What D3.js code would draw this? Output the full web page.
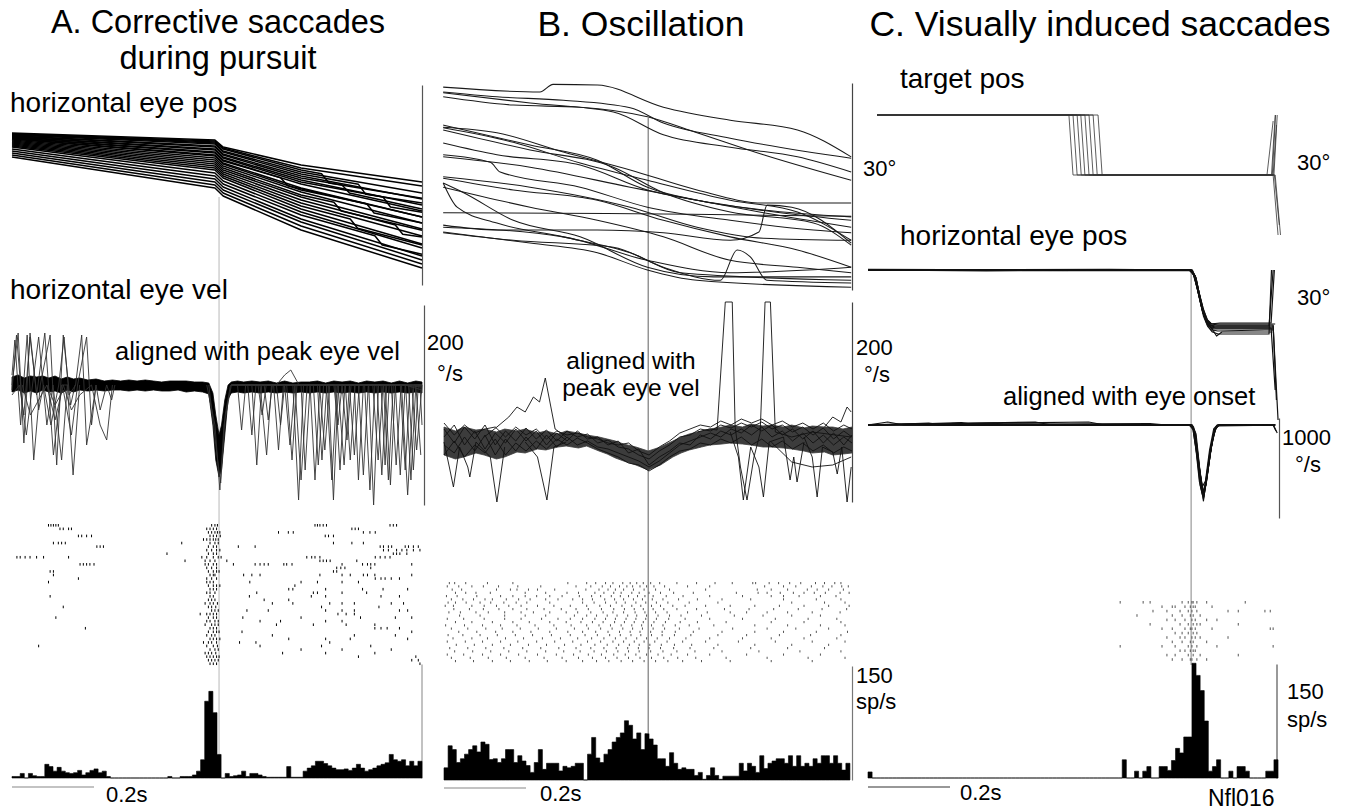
<!DOCTYPE html>
<html><head><meta charset="utf-8">
<script src="https://cdn.jsdelivr.net/npm/d3@7"></script>
<style>
html,body{margin:0;padding:0;background:#fff;}
svg{display:block;font-family:"Liberation Sans",Arial,Helvetica,sans-serif;}
</style></head><body>
<svg id="fig" width="1346" height="812"></svg>
<script>
// ---------------- DATA ----------------
const timeA = [-505, 495];
const timeB = [-498, 497];
const timeC = [-788, 207];
const binMs = 10;

// Panel A: horizontal eye position traces [ms, deg]
const posA = [
 [[-505,22.8],[-10,21.75],[10,20.7],[200,18.0],[495,15.45]],
 [[-505,22.7],[-10,21.6],[10,20.55],[200,17.55],[495,14.85]],
 [[-505,22.65],[-10,21.45],[10,20.4],[200,17.25],[250,16.7],[268,15.3],[495,13.0]],
 [[-505,22.6],[-10,21.3],[10,20.1],[200,16.95],[495,13.8]],
 [[-505,22.5],[-10,21.15],[10,19.95],[200,16.65],[340,15.1],[358,13.6],[495,12.3]],
 [[-505,22.4],[-10,20.85],[10,19.65],[200,16.35],[495,12.9]],
 [[-505,22.35],[-10,20.7],[10,19.5],[200,16.05],[300,15.0],[318,13.8],[495,11.4]],
 [[-505,22.25],[-10,20.4],[10,19.2],[200,15.75],[495,12.0]],
 [[-505,22.2],[-10,20.25],[10,19.05],[200,15.45],[400,13.2],[418,11.7],[495,10.9]],
 [[-505,22.1],[-10,19.95],[10,18.75],[200,15.15],[495,11.1]],
 [[-505,22.05],[-10,19.8],[10,18.6],[150,16.1],[168,14.9],[495,10.2]],
 [[-505,21.95],[-10,19.5],[10,18.3],[200,14.55],[495,10.2]],
 [[-505,21.9],[-10,19.35],[10,18.15],[200,14.25],[360,12.2],[378,10.8],[495,9.3]],
 [[-505,21.75],[-10,19.05],[10,17.85],[200,13.95],[495,9.3]],
 [[-505,21.6],[-10,18.75],[10,17.55],[200,13.5],[280,12.4],[298,11.1],[495,8.2]],
 [[-505,21.45],[-10,18.45],[10,17.25],[200,13.2],[495,8.4]],
 [[-505,21.3],[-10,18.15],[10,16.95],[200,12.75],[430,9.0],[448,7.6],[495,7.2]],
 [[-505,21.15],[-10,17.85],[10,16.65],[200,12.3],[495,7.35]],
 [[-505,21.0],[-10,17.55],[10,16.35],[200,11.85],[320,9.9],[338,8.5],[495,6.0]],
 [[-505,20.85],[-10,17.25],[10,16.05],[200,11.4],[495,6.15]],
 [[-505,20.7],[-10,16.8],[10,15.6],[200,10.95],[495,5.55]],
 [[-505,20.4],[-10,16.35],[10,15.15],[200,10.5],[380,7.4],[398,6.0],[495,4.6]],
 [[-505,20.1],[-10,15.9],[10,14.7],[200,9.9],[495,4.35]],
 [[-505,19.8],[-10,15.45],[10,14.25],[200,9.45],[495,3.75]],
 [[-505,19.5],[-10,15.0],[10,13.8],[200,8.85],[495,3.15]],
 [[-505,19.2],[-10,14.55],[10,13.35],[200,8.25],[495,2.55]]
];

// Panel A: eye velocity band envelope [ms, low, high] (deg/s)
const velBandA = [[-505,-27,-12],[-490,-25,-10],[-475,-28,-13],[-460,-26,-11],[-445,-28,-12],[-430,-25,-11],[-415,-27,-13],[-400,-26,-11],[-385,-28,-14],[-370,-25,-12],[-355,-27,-14],[-340,-25,-13],[-320,-26,-15],[-300,-25,-14],[-280,-26,-16],[-260,-25,-15],[-240,-25,-16],[-220,-26,-15],[-200,-25,-16],[-180,-26,-15],[-160,-25,-16],[-140,-26,-17],[-120,-26,-16],[-100,-25,-16],[-80,-27,-16],[-60,-26,-17],[-40,-27,-17],[-25,-29,-18],[-15,-60,-28],[-8,-95,-50],[0,-112,-70],[6,-105,-60],[14,-70,-35],[22,-34,-20],[30,-28,-17],[45,-27,-16],[60,-28,-17],[80,-27,-16],[100,-28,-17],[120,-27,-16],[140,-28,-18],[160,-27,-16],[180,-28,-18],[200,-27,-17],[220,-28,-17],[240,-27,-16],[260,-28,-18],[280,-27,-16],[300,-28,-17],[320,-27,-16],[340,-28,-18],[360,-27,-16],[380,-28,-17],[400,-27,-16],[420,-28,-18],[440,-27,-16],[460,-28,-18],[480,-27,-16],[495,-28,-17]];

// Panel A: individual velocity excursions [ms, deg/s]
const velTracesA = [
 [[-505,-20],[-490,32],[-476,-78],[-461,32],[-445,-30],[-425,32],[-404,-90],[-384,-20],[-368,-20]],
 [[-505,-10],[-498,25],[-484,-60],[-468,30],[-452,-95],[-436,-20],[-412,30],[-396,-100],[-380,30],[-362,-40],[-351,-20]],
 [[-505,-25],[-494,30],[-480,-40],[-470,-70],[-455,-20],[-440,28],[-420,-60],[-405,-20],[-384,-95],[-370,-20],[-356,-110],[-340,-20]],
 [[-505,-30],[-487,-20],[-476,-50],[-461,28],[-440,-45],[-428,-20],[-410,-60],[-391,-20],[-378,28],[-366,-30],[-350,-20],[-335,30],[-323,-80],[-311,-50],[-300,-20]],
 [[-420,-20],[-400,-40],[-380,-25],[-360,-70],[-345,-20],[-323,28],[-311,-60],[-300,-20],[-290,-45],[-274,-20],[-262,-35],[-254,-20]],
 [[-480,-20],[-460,-50],[-440,-35],[-420,-20],[-400,-55],[-380,-20],[-360,-45],[-340,-30],[-311,-20],[-290,-60],[-274,-75],[-260,-20]],
 [[30,-20],[80,-20],[92,-100],[104,-20],[180,-20],[194,-135],[206,-20],[283,-20],[295,-105],[307,-20],[385,-20],[397,-110],[409,-20],[462,-20],[474,-105],[486,-20],[495,-20]],
 [[30,-20],[45,-20],[55,-65],[65,-20],[100,-20],[116,-90],[128,-20],[222,-20],[234,-115],[246,-20],[330,-20],[340,-115],[352,-20],[430,-20],[442,-110],[454,-20],[495,-25]],
 [[30,-20],[133,-20],[145,-85],[157,-20],[200,-20],[210,-105],[222,-20],[267,-20],[279,-135],[291,-20],[365,-20],[377,-140],[389,-20],[495,-20]],
 [[30,-20],[160,-20],[173,-80],[185,-20],[240,-20],[251,-95],[263,-20],[308,-20],[320,-95],[332,-20],[401,-20],[413,-115],[425,-20],[480,-20],[492,-90]],
 [[30,-20],[70,-20],[80,-70],[90,-20],[140,-20],[150,-60],[160,-20],[245,-20],[258,-85],[270,-20],[340,-20],[352,-110],[364,-20],[442,-20],[454,-105],[466,-20],[495,-20]],
 [[30,-20],[110,-20],[120,-55],[130,-20],[185,-20],[200,-115],[215,-20],[290,-20],[305,-100],[318,-20],[375,-20],[388,-95],[400,-20],[455,-20],[468,-115],[480,-20],[495,-20]],
 [[30,-20],[230,-20],[242,-100],[255,-20],[280,-20],[290,-60],[300,-20],[355,-20],[368,-125],[380,-20],[420,-20],[432,-100],[444,-20],[495,-22]],
 [[30,-20],[95,-20],[105,-50],[115,-20],[165,-20],[178,-95],[190,-20],[262,-20],[275,-115],[288,-20],[318,-20],[330,-90],[342,-20],[405,-20],[418,-120],[430,-20],[470,-20],[482,-85],[495,-20]],
 [[300,-20],[312,-75],[322,-20],[395,-20],[405,-100],[415,-20],[445,-20],[460,-130],[475,-20],[490,-20],[495,-60]],
 [[-30,-20],[-10,-60],[2,-125],[12,-60],[30,-20]],
 [[-25,-20],[-5,-90],[4,-118],[15,-50],[28,-20]],
 [[140,-20],[160,-10],[175,-5],[195,-20]]
];

// Panel A: spike raster (ms per trial)
const rasterA = [
 [-416,-410,-404,-398,-392,-18,-10,-4,234,240,246,254,262,417,425,433],
 [-388,-380,-367,-360,-30,-22,-14,-6,324,332,340],
 [-26,-18,-10,-4,2,145,169,181,352,368,381],
 [-343,-335,-323,-311,-22,-14,-6,3,259,267,279],
 [-38,-30,-22,-14,-8,-2],
 [-404,-392,-384,-375,-91,-22,-10,-2,279,324,352],
 [-298,-290,-282,-26,-14,-6,47,88,393,401,413,421,454,462,474,486],
 [-30,-18,-6,2,401,413,433,446,458,474,490],
 [-127,-26,-14,-6,425,433,441,458],
 [-493,-485,-473,-461,-445,-428,-367,-42,-30,-14,-2,5,214,226,234,246,381,393,405,417],
 [-83,-34,-22,-10,19,246,254,262,271,336],
 [-339,-331,-323,-315,-305,-34,-26,-14,-6,35,88,100,110,120,158,165,178,300,350,362,370,380,470],
 [-30,-18,-6,287,297,307,370],
 [-412,-404,-26,-14,-6,0,279,287],
 [-404,-22,-14,-10,60,80,100,246,300,320,352,362,380,470],
 [-343,-30,-18,-6,381,395,405,420,440],
 [-416,-30,-22,-14,75,200,240,300,340],
 [-26,-14,-6,2,185],
 [-22,-14,-6,170,180,260,350,400,460],
 [-30,-22,-10,92,230,240,300,360],
 [-412,-22,-14,74,225,260,395,440],
 [-26,-18,-10,110,170],
 [-34,-22,-14,-4,130,180,270,300,330,420,450],
 [-380,-26,-18,-8,250,390],
 [-18,-10,-2,68,120,260,300,330,440,460],
 [-46,-30,-22,-14,-6,290,310,330],
 [-398,-26,-14,-6,58,200,345,430,470],
 [-30,-22,-10,-2,100,150,260,300],
 [-34,-18,-10,-2,140,230,310,380],
 [-326,-22,-14,-6,380,395,410,440],
 [-26,-14,-6,0,56,470],
 [-30,-18,-10,130,330,430],
 [-22,-14,-6,2,170,260,320,460],
 [-38,-26,-18,-6,50,90,270],
 [-440,-30,-14,-4,100,250,370],
 [-22,-10,-2,200,300,420],
 [-34,-26,-18,-8,155,260,380],
 [-30,-22,-14,-6,0,340,480],
 [-26,-18,-10,-2,470,486],
 [-22,-14,-6,490]
];

// Panel A: firing-rate histogram (sp/s), 10 ms bins
const histA = [2,2,6,0,6,3,2,2,18,15, 9,14,9,7,6,7,10,4,7,10, 12,7,9,2,0,0,0,0,0,0, 0,0,0,0,0,0,0,0,2,0, 0,2,2,2,4,9,24,101,114,86, 31,0,6,2,3,4,9,2,6,6, 4,2,1,1,1,1,1,15,1,1, 1,9,13,16,22,22,19,16,13,11, 11,12,10,13,18,13,9,11,13,16, 18,20,31,24,22,24,16,22,16,22];

// Panel B: eye position traces [ms, deg]
const posB = [
 [[-500,29.4],[-264,28.7],[-232,29.8],[-124,29.7],[37,26.5],[200,24.6],[364,23.2],[495,19.3]],
 [[-500,28.7],[-369,28.0],[-207,27.5],[-44,26.4],[37,24.2],[200,22.0],[495,19.1]],
 [[-500,28.6],[-288,27.1],[-85,25.8],[37,22.5],[200,20.7],[364,19.3],[495,17.1]],
 [[-500,28.0],[-329,26.8],[-166,26.5],[-2,25.1],[119,22.8],[281,19.6],[495,15.9]],
 [[-500,23.9],[-288,21.0],[-124,18.8],[-2,14.9],[119,13.0],[281,11.6],[495,10.6]],
 [[-500,23.5],[-329,21.4],[-166,18.4],[-2,15.9],[200,13.0],[364,11.3],[495,7.2]],
 [[-500,23.2],[-288,20.3],[-85,17.8],[37,14.1],[200,11.3],[403,9.7],[495,6.5]],
 [[-500,21.3],[-369,19.6],[-166,18.1],[-2,14.5],[160,12.6],[322,11.2],[495,10.1]],
 [[-500,19.6],[-385,18.5],[-361,17.1],[-166,14.9],[-2,12.0],[200,10.1],[403,8.7],[495,8.3]],
 [[-500,16.4],[-288,14.9],[-44,12.0],[119,9.1],[281,7.5],[495,7.2]],
 [[-500,16.2],[-329,14.5],[-124,13.0],[37,10.1],[200,7.7],[364,5.8],[495,3.3]],
 [[-500,15.5],[-466,12.0],[-369,9.7],[-207,7.7],[-44,5.4],[78,2.5],[495,1.4]],
 [[-500,14.9],[-288,12.0],[-124,10.1],[37,7.7],[200,4.3],[364,3.3],[495,2.5]],
 [[-500,11.2],[-100,11.1],[200,10.9],[495,10.7]],
 [[-500,9.4],[-369,8.7],[-124,8.7],[37,8.3],[200,7.2],[270,8.4],[290,12.3],[350,12.0],[495,6.8]],
 [[-500,8.4],[-288,6.8],[-124,5.4],[-2,2.9],[119,1.4],[495,0.4]],
 [[-500,8.3],[-329,7.2],[-85,6.2],[37,3.3],[176,1.4],[217,5.8],[249,4.8],[290,1.4],[495,1.0]],
 [[-500,15.5],[-450,14.1],[-329,10.1],[-166,7.7],[-2,3.3],[160,1.9],[495,1.9]],
 [[-500,9.1],[-207,7.7],[-2,4.3],[200,2.5],[495,3.3]],
 [[-500,19.3],[-288,17.8],[-44,14.9],[119,13.0],[281,11.2],[495,9.1]],
 [[-500,23.6],[-369,22.8],[-207,20.0],[-44,17.4],[119,14.5],[281,12.6],[495,12.6]]
];

// Panel B: velocity envelope [ms, low, high] (deg/s)
const velBandB = [[-498,-18,10],[-470,-22,6],[-450,-20,10],[-420,-16,7],[-400,-18,8],[-370,-22,5],[-350,-20,8],[-320,-15,6],[-300,-16,8],[-270,-12,4],[-250,-13,6],[-220,-10,3],[-200,-9,6],[-170,-11,4],[-150,-9,2],[-120,-14,0],[-100,-17,-2],[-80,-21,-4],[-60,-24,-7],[-30,-28,-10],[0,-33,-14],[30,-28,-10],[60,-20,-4],[80,-16,0],[100,-13,3],[130,-10,6],[150,-8,8],[180,-7,10],[200,-6,12],[230,-7,10],[250,-8,13],[280,-10,11],[300,-10,12],[330,-11,10],[350,-12,12],[380,-14,9],[400,-16,11],[430,-15,10],[450,-18,10],[475,-17,8],[497,-16,10]];
// Panel B: individual velocity traces [ms, deg/s]
const velTracesB = [
 [[-498,8],[-473,-6],[-448,10],[-423,-2],[-398,12],[-373,-8],[-348,6],[-323,-4],[-298,9],[-273,-2],[-248,7],[-223,-4],[-198,6],[-173,0],[-148,3],[-123,-6],[-98,-3],[-73,-10],[-48,-12],[-23,-18],[2,-22],[27,-14],[52,-8],[77,0],[102,2],[127,8],[152,6],[177,12],[202,9],[227,14],[252,10],[277,15],[302,8],[327,12],[352,5],[377,10],[402,2],[427,9],[452,-2],[477,6],[497,0]],
 [[-498,-18],[-473,-4],[-448,-20],[-423,-8],[-398,-16],[-373,-2],[-348,-18],[-323,-6],[-298,-14],[-273,-4],[-248,-12],[-223,-2],[-198,-8],[-173,-1],[-148,-6],[-123,-12],[-98,-16],[-73,-20],[-48,-26],[-23,-28],[2,-34],[27,-28],[52,-20],[77,-14],[102,-12],[127,-6],[152,-8],[177,-2],[202,-6],[227,0],[252,-8],[277,-2],[302,-10],[327,-4],[352,-12],[377,-6],[402,-14],[427,-8],[452,-16],[477,-10],[497,-14]],
 [[-498,0],[-473,12],[-448,-8],[-423,6],[-398,-12],[-373,4],[-348,-6],[-323,8],[-298,-4],[-273,6],[-248,-8],[-223,4],[-198,-4],[-173,6],[-148,-2],[-123,0],[-98,-8],[-73,-4],[-48,-16],[-23,-12],[2,-28],[27,-20],[52,-14],[77,-6],[102,-8],[127,2],[152,-2],[177,6],[202,2],[227,8],[252,2],[277,10],[302,0],[327,6],[352,-4],[377,4],[402,-6],[427,2],[452,-8],[477,0],[497,-6]],
 [[-498,-8],[-473,-16],[-448,0],[-423,-14],[-398,2],[-373,-18],[-348,-2],[-323,-14],[-298,0],[-273,-12],[-248,2],[-223,-10],[-198,0],[-173,-8],[-148,-4],[-123,-10],[-98,-12],[-73,-16],[-48,-20],[-23,-24],[2,-30],[27,-24],[52,-16],[77,-8],[102,-4],[127,0],[152,4],[177,0],[202,8],[227,4],[252,12],[277,6],[302,12],[327,2],[352,8],[377,-2],[402,6],[427,-6],[452,4],[477,-8],[497,2]],
 [[-498,14],[-473,2],[-448,12],[-423,4],[-398,8],[-373,10],[-348,0],[-323,10],[-298,2],[-273,8],[-248,-2],[-223,6],[-198,2],[-173,4],[-148,0],[-123,-2],[-98,-6],[-73,-8],[-48,-6],[-23,-14],[2,-18],[27,-10],[52,-4],[77,4],[102,8],[127,12],[152,10],[177,16],[202,12],[227,18],[252,14],[277,18],[302,12],[327,16],[352,10],[377,14],[402,8],[427,14],[452,6],[477,12],[497,8]],
 [[120,5],[150,8],[168,7],[188,135],[205,135],[212,10],[225,-30],[241,-63],[258,-20],[273,4],[285,135],[298,135],[310,5],[350,0],[400,5],[495,0]],
 [[-400,0],[-369,10],[-340,20],[-320,30],[-300,25],[-280,40],[-265,35],[-251,59],[-227,8],[-200,0]],
 [[-498,-5],[-485,-30],[-475,-50],[-460,-10],[-440,-30],[-435,-40],[-420,-5],[-385,-20],[-369,-65],[-350,-10]],
 [[-300,-5],[-270,-20],[-247,-63],[-230,-10],[-200,-5]],
 [[200,5],[220,-20],[232,-63],[250,-10],[270,-30],[281,-60],[295,-5],[330,0],[346,-43],[355,-20],[363,-45],[380,-5]],
 [[380,0],[400,-20],[412,-60],[425,-10],[450,-15],[461,-37],[472,-10],[485,-65],[495,-30]],
 [[430,10],[450,20],[470,15],[485,30],[495,25]],
 [[300,-5],[350,-25],[400,-30],[450,-28],[495,-20]]
];

// Panel B: spike raster and histogram
const rasterB = [
 [-485,-472,-445,-392,-330,-196,-150,-128,-104,-86,-62,-44,-28,-12,6,28,70,118,163,205,255,262,295,318,345,372,408,430,455,470],
 [-490,-462,-430,-402,-365,-318,-262,-176,-140,-112,-92,-70,-52,-38,-20,-4,14,40,96,150,284,330,360,398,426,448,472,488],
 [-478,-455,-370,-336,-320,-292,-270,-228,-152,-120,-98,-80,-60,-36,-10,18,52,140,266,300,340,388,412,440,476],
 [-470,-445,-420,-385,-300,-250,-198,-170,-130,-108,-84,-66,-40,-22,2,30,62,110,215,268,290,322,354,380,405,432,468,490],
 [-492,-466,-418,-360,-330,-300,-272,-240,-210,-168,-138,-116,-90,-68,-48,-26,-8,12,44,85,150,230,300,330,368,420,458],
 [-480,-452,-426,-398,-380,-346,-316,-288,-250,-220,-184,-160,-136,-106,-82,-60,-36,-14,10,36,74,120,180,250,330,410,470],
 [-488,-470,-444,-410,-384,-352,-322,-296,-240,-160,-132,-104,-78,-56,-30,-6,20,48,100,170,350,430,480],
 [-495,-475,-430,-400,-370,-340,-310,-270,-230,-190,-150,-118,-92,-64,-40,-18,8,30,60,90,140,200,260,320,380,440,490],
 [-474,-436,-402,-364,-330,-296,-254,-212,-176,-146,-114,-84,-58,-34,-12,12,38,70,118,186,246,306,366,424,484],
 [-486,-458,-420,-390,-350,-310,-280,-240,-200,-172,-140,-110,-86,-60,-32,-8,18,46,96,144,200,240,290,340,400,468],
 [-460,-410,-350,-300,-250,-180,-150,-126,-100,-76,-50,-28,-4,24,52,80,130,210,280,350,420],
 [-490,-450,-400,-350,-310,-260,-220,-190,-160,-130,-104,-80,-54,-30,-6,20,50,90,150,230,310,390,460],
 [-470,-430,-380,-330,-290,-240,-200,-164,-136,-110,-82,-58,-34,-12,14,42,78,120,190,300,380,470],
 [-494,-448,-404,-360,-320,-276,-230,-188,-150,-120,-92,-66,-40,-16,8,36,66,100,160,260,340,420,480],
 [-480,-440,-396,-356,-312,-268,-224,-180,-146,-116,-88,-62,-38,-14,12,40,76,124,206,290,360,440],
 [-462,-418,-372,-330,-286,-240,-196,-160,-128,-98,-70,-44,-20,6,34,66,110,180,260,330,410,486],
 [-488,-452,-410,-368,-324,-282,-236,-190,-154,-124,-94,-68,-42,-18,8,34,64,104,170,240,320,396,470],
 [-476,-430,-392,-348,-304,-258,-214,-172,-138,-108,-80,-54,-28,-4,22,52,92,150,230,300,380,460],
 [-490,-446,-404,-360,-318,-272,-228,-184,-148,-116,-86,-60,-34,-10,16,46,84,140,220,310,400,480],
 [-468,-424,-380,-336,-292,-248,-204,-164,-130,-100,-72,-46,-22,4,32,64,106,170,260,350,440],
 [-484,-440,-396,-352,-306,-262,-218,-176,-140,-108,-78,-50,-24,2,30,62,102,160,250,340,430],
 [-472,-428,-384,-340,-296,-250,-206,-166,-132,-102,-74,-48,-22,6,36,70,114,180,270,370,470],
 [-490,-450,-404,-360,-316,-270,-224,-182,-146,-114,-84,-56,-30,-4,24,56,96,150,240,330,420],
 [-480,-434,-390,-346,-300,-254,-210,-170,-136,-104,-76,-48,-20,8,38,72,116,190,290,390,480],
 [-470,-426,-380,-336,-290,-246,-200,-160,-126,-96,-66,-38,-10,18,48,84,130,200,300,400]
];
const histB = [16,45,40,23,28,34,40,45,37,50, 47,27,28,23,28,40,40,23,32,25, 19,10,23,40,14,22,22,22,12,18, 16,18,22,22,0,34,56,29,23,34, 40,50,56,62,78,72,54,62,40,61, 54,46,28,28,18,36,22,14,16,14, 14,6,10,1,6,16,6,1,5,5, 5,5,22,12,22,18,10,32,15,22, 25,28,28,22,32,18,32,18,22,18, 28,22,32,32,22,32,22,13,22];

// Panel C: target position [ms, deg]
const targetC = [
 [[-766,15],[-298,15],[-288,-15],[196,-15],[205,15]],
 [[-766,15],[-288,15],[-278,-15],[200,-15],[212,-45]],
 [[-766,15],[-278,15],[-268,-15],[198,-15],[206,15]],
 [[-766,15],[-269,15],[-259,-15],[203,-15],[215,-40]],
 [[-766,15],[-259,15],[-249,-15],[200,-15],[208,10]],
 [[-766,15],[-249,15],[-239,-15],[205,-15],[218,-45]],
 [[-766,15],[-239,15],[-229,-15],[202,-15],[210,15]],
 [[-766,15],[-227,15],[-217,-15],[185,-15],[200,12]]
];
// Panel C: eye position [ms, deg]
const posC = [
 [[-788,15],[-500,15.2],[-200,14.8],[-4,15],[6,13],[16,5],[26,-4],[36,-10],[46,-12.5],[60,-13],[120,-13],[190,-13],[200,15]],
 [[-788,15.3],[-400,15],[-100,15.2],[-2,15],[8,12],[18,3],[28,-6],[38,-11],[48,-13.5],[60,-14],[150,-14],[195,-14],[205,-45]],
 [[-788,14.8],[-600,15],[-300,14.7],[0,14.8],[10,11],[20,2],[30,-7],[40,-12],[52,-15],[65,-15.5],[180,-15],[200,-15]],
 [[-788,15.2],[-300,15],[-3,15],[7,12.5],[17,4],[27,-5],[37,-11],[47,-12],[70,-11.5],[195,-11.5],[203,15]],
 [[-788,15],[-500,14.6],[-1,15],[9,11.5],[19,2.5],[29,-6],[39,-12],[50,-14],[62,-18],[75,-16],[190,-16],[198,-16]],
 [[-788,15.1],[0,15],[10,12],[20,3],[30,-5],[40,-10],[50,-12],[65,-12.5],[200,-12.5],[208,-50]],
 [[-788,15],[-200,15.3],[2,15],[12,11],[22,1],[32,-8],[42,-13],[55,-14.5],[200,-14.5]],
 [[-788,14.9],[-1,15],[9,12],[19,4],[29,-4],[39,-10],[49,-12],[60,-12],[195,-12],[205,-12]],
 [[-788,15],[-5,15],[5,13],[15,6],[25,-3],[35,-9],[45,-12.5],[58,-13.5],[200,-13.5]],
 [[-788,15.2],[0,15],[10,12],[20,2],[30,-8],[40,-13],[52,-16],[66,-17],[190,-17],[196,15]],
 [[-788,15],[1,15],[11,11.5],[21,2],[31,-7],[41,-12],[52,-13],[200,-13],[212,-60]],
 [[-788,15.1],[3,15],[13,10],[23,0],[33,-8],[43,-12],[56,-14],[200,-14]]
];
// Panel C: eye velocity [ms, deg/s]
const velC = [
 [[-788,0],[-740,30],[-700,0],[-400,10],[-200,-5],[0,0],[6,-40],[14,-300],[22,-600],[30,-740],[38,-550],[48,-250],[58,-50],[66,0],[200,0],[207,-60]],
 [[-788,5],[-600,-5],[-300,5],[-5,0],[4,-30],[12,-250],[20,-560],[28,-700],[36,-560],[46,-260],[56,-60],[64,0],[205,0]],
 [[-788,-5],[-560,25],[-520,0],[-2,0],[6,-20],[16,-300],[26,-650],[34,-640],[44,-350],[54,-100],[62,-10],[70,0],[205,5]],
 [[-788,0],[-380,30],[-340,0],[-1,0],[8,-60],[18,-400],[28,-700],[36,-600],[46,-300],[56,-60],[66,0],[200,5],[210,-80]],
 [[-788,5],[-250,30],[-210,0],[0,0],[8,-50],[18,-380],[27,-620],[35,-560],[45,-250],[55,-40],[64,0],[205,0]],
 [[-788,0],[-700,10],[-480,20],[-450,0],[1,0],[10,-80],[20,-420],[30,-680],[38,-520],[48,-230],[58,-40],[68,0],[205,0]],
 [[-788,0],[-100,15],[-60,0],[2,0],[11,-100],[21,-450],[30,-760],[38,-500],[50,-200],[60,-30],[70,0],[205,0]],
 [[-788,-3],[-640,18],[-600,-3],[-1,0],[9,-70],[19,-400],[29,-690],[37,-580],[47,-280],[57,-60],[67,0],[205,0]],
 [[-788,3],[-150,-5],[3,0],[12,-90],[22,-480],[31,-720],[40,-480],[52,-150],[62,-10],[205,0]],
 [[-788,-2],[-420,4],[-4,0],[5,-50],[15,-330],[25,-640],[33,-660],[43,-400],[53,-120],[63,-5],[205,2]]
];
// Panel C: spike raster and histogram
const rasterC = [
 [-173,-117,-100,-22,-7,2,5,14,38,132],
 [-71,-46,-39,-15,-2,5,10,51],
 [-93,-59,-27,-7,2,14,90,115,180,193],
 [-132,-46,-22,-2,5,22],
 [-59,-39,-15,2,10,38,63],
 [-100,-27,-7,5,14,22,115],
 [-71,-46,-15,-2,2,10,51,193,200],
 [-39,-22,-7,5,14],
 [-59,-27,-15,2,10,22,90],
 [-46,-22,-2,5,38],
 [-173,-71,-39,-7,2,14,63,200],
 [-27,-15,-2,5,10],
 [-59,-39,-7,5,22,115],
 [-46,-22,-2,2,14,38]
];
const histC = [8,0,0,0,0,0,0,0,0,0, 0,0,0,0,0,0,0,0,0,0, 0,0,0,0,0,0,0,0,0,0, 0,0,0,0,0,0,0,0,0,0, 0,0,0,0,0,0,0,0,0,0, 0,0,0,0,0,0,0,0,0,0, 0,0,24,0,0,9,0,9,15,0, 0,15,15,10,23,39,33,54,54,151, 135,115,75,9,15,24,0,0,9,0, 15,15,9,0,0,0,0,9,9,24];

// text labels
const titleA = ["A. Corrective saccades", "during pursuit"];
const titleB = "B. Oscillation";
const titleC = "C. Visually induced saccades";
const unitLabels = {vel: "°/s", pos: "30°", rate: "sp/s", scale: "0.2s"};
const cellName = "Nfl016";

// ---------------- DRAWING ----------------
const svg = d3.select("#fig");
const FONT = '"Liberation Sans", Arial, Helvetica, sans-serif';

const xA = d3.scaleLinear().domain(timeA).range([12, 422]);
const xB = d3.scaleLinear().domain(timeB).range([444, 852]);
const xC = d3.scaleLinear().domain(timeC).range([868, 1276]);

const yApos = d3.scaleLinear().domain([0, 30]).range([285, 85]);
const yAvel = d3.scaleLinear().domain([-140, 60]).range([505, 305]);
const yBpos = d3.scaleLinear().domain([0, 30]).range([290, 83]);
const yBvel = d3.scaleLinear().domain([-65, 135]).range([502, 302]);
const yCtgt = d3.scaleLinear().domain([-15, 15]).range([175, 115]);
const yCpos = d3.scaleLinear().domain([-60, 15]).range([420, 270]);
const yCvel = d3.scaleLinear().domain([-930, 70]).range([518, 418]);
const yHA = d3.scaleLinear().domain([0, 150]).range([778, 664]);
const yHB = d3.scaleLinear().domain([0, 150]).range([780, 666]);
const yHC = d3.scaleLinear().domain([0, 150]).range([778, 664]);

function vline(x, y1, y2, color, w) {
  svg.append("line").attr("x1", x).attr("x2", x).attr("y1", y1).attr("y2", y2)
    .attr("stroke", color).attr("stroke-width", w || 1);
}
function rightAxis(xpos, yScale, color) {
  const g = svg.append("g").attr("transform", `translate(${xpos},0)`)
    .call(d3.axisRight(yScale).tickValues([]).tickSizeOuter(0));
  g.select(".domain").attr("stroke", color || "#444").attr("stroke-width", 1.2);
}
function traces(data, x, y, color, width, curve) {
  const line = d3.line().x(d => x(d[0])).y(d => y(d[1])).curve(curve || d3.curveLinear);
  svg.append("g").selectAll("path").data(data).join("path")
    .attr("d", line).attr("fill", "none").attr("stroke", color)
    .attr("stroke-width", width).attr("stroke-linejoin", "round");
}
function band(data, x, y, color) {
  const area = d3.area().x(d => x(d[0])).y0(d => y(d[1])).y1(d => y(d[2]));
  svg.append("path").datum(data).attr("d", area).attr("fill", color).attr("stroke", color).attr("stroke-width", 0.8);
}
function hist(values, t0, x, y) {
  const pts = values.map((v, i) => [t0 + i * binMs, v]);
  pts.push([t0 + values.length * binMs, values[values.length - 1]]);
  const area = d3.area().x(d => x(d[0])).y0(y(0)).y1(d => y(d[1])).curve(d3.curveStepAfter);
  svg.append("path").datum(pts).attr("d", area).attr("fill", "#000").attr("stroke", "#000").attr("stroke-width", 0.6);
}
function raster(rows, x, top, step, h, color) {
  const g = svg.append("g");
  rows.forEach((row, i) => {
    g.selectAll(null).data(row).join("line")
      .attr("x1", d => x(d)).attr("x2", d => x(d))
      .attr("y1", top + i * step).attr("y2", top + i * step + h)
      .attr("stroke", color).attr("stroke-width", 1);
  });
}
function label(text, x, y, size, anchor) {
  svg.append("text").attr("x", x).attr("y", y).attr("font-size", size)
    .attr("font-family", FONT).attr("text-anchor", anchor || "start").attr("fill", "#000").text(text);
}
function label2(lines, x, y, size, lineGap, anchor) {
  const t = svg.append("text").attr("x", x).attr("y", y).attr("font-size", size)
    .attr("font-family", FONT).attr("text-anchor", anchor || "start").attr("fill", "#000");
  lines.forEach((s, i) => t.append("tspan").attr("x", x).attr("dy", i === 0 ? 0 : lineGap).text(s));
}
function scaleBar(x, t0, y, color) {
  svg.append("line").attr("x1", x(t0)).attr("x2", x(t0 + 200)).attr("y1", y).attr("y2", y)
    .attr("stroke", color).attr("stroke-width", 1.2);
}

// alignment lines (drawn first)
vline(xA(0), 197, 778, "#c4c4c4", 1.2);
vline(xB(0), 118, 733, "#7a7a7a", 1.2);
vline(xC(0), 270, 665, "#999", 1.2);

// ---- Panel A ----
rightAxis(422, yApos, "#555");
rightAxis(424, yAvel, "#555");
rightAxis(421.5, yHA, "#999");
traces(posA, xA, yApos, "#000", 1.5);
band(velBandA, xA, yAvel, "#000");
traces(velTracesA, xA, yAvel, "#333", 0.9);
raster(rasterA, xA, 524, 3.55, 2.6, "#000");
hist(histA, timeA[0], xA, yHA);
scaleBar(xA, timeA[0], 787, "#888");

// ---- Panel B ----
rightAxis(852, yBpos, "#444");
rightAxis(852, yBvel, "#444");
rightAxis(852, yHB, "#777");
traces(posB, xB, yBpos, "#1a1a1a", 1.05, d3.curveMonotoneX);
band(velBandB, xB, yBvel, "#3c3c3c");
traces(velTracesB, xB, yBvel, "#111", 0.9);
raster(rasterB, xB, 582, 3.25, 2.2, "#555");
hist(histB, timeB[0], xB, yHB);
scaleBar(xB, timeB[0], 788, "#888");

// ---- Panel C ----
rightAxis(1279, yCvel, "#555");
rightAxis(1276.5, yHC, "#555");
traces(targetC, xC, yCtgt, "#333", 0.8);
traces(posC, xC, yCpos, "#111", 1.2);
traces(velC, xC, yCvel, "#111", 1.2);
raster(rasterC, xC, 601, 4.4, 2.6, "#555");
hist(histC, timeC[0], xC, yHC);
scaleBar(xC, timeC[0], 787, "#333");

// ---- Text ----
label2(titleA, 218, 33, 32.5, 36, "middle");
label(titleB, 641, 36, 35.5, "middle");
label(titleC, 1100, 36, 35.5, "middle");

label("horizontal eye pos", 10, 112, 28);
label("horizontal eye vel", 10, 299, 28);
label("aligned with peak eye vel", 115, 360, 25.5);
label("200", 427, 350, 22);
label(unitLabels.vel, 437, 381, 22);
label(unitLabels.scale, 106, 802, 22);

label(unitLabels.pos, 863, 176, 22);
label("200", 856, 355, 22);
label(unitLabels.vel, 864, 382, 22);
label2(["aligned with", "peak eye vel"], 631, 369, 24.5, 27, "middle");
label("150", 856, 683, 22);
label(unitLabels.rate, 856, 709, 22);
label(unitLabels.scale, 540, 801, 22);

label("target pos", 900, 88, 28);
label(unitLabels.pos, 1297, 170, 22);
label("horizontal eye pos", 900, 245, 28);
label(unitLabels.pos, 1297, 305, 22);
label("aligned with eye onset", 1003, 405, 25.5);
label("1000", 1282, 445, 22);
label(unitLabels.vel, 1295, 472, 22);
label("150", 1287, 699, 22);
label(unitLabels.rate, 1287, 727, 22);
label(unitLabels.scale, 960, 800, 22);
label(cellName, 1208, 806, 23);
</script></body></html>
